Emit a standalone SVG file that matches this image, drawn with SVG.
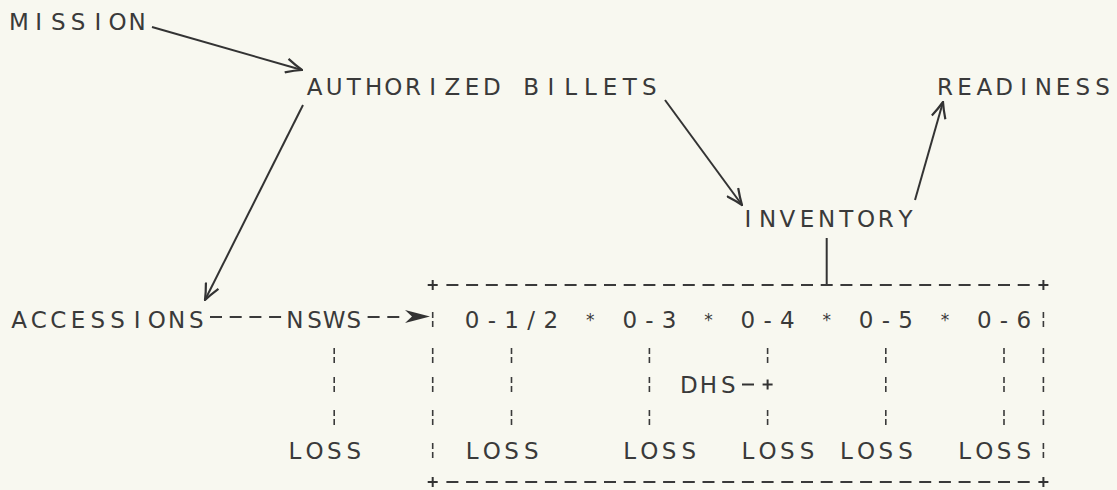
<svg xmlns="http://www.w3.org/2000/svg" width="1117" height="490" viewBox="0 0 1117 490">
<style>
.t{font-family:"DejaVu Sans","Liberation Sans",sans-serif;font-size:23px;fill:#3a3a3a;text-anchor:middle}
.ast{font-size:17px}
.ln{stroke:#333;stroke-width:2;fill:none;stroke-linecap:butt}
.dh{stroke:#3a3a3a;stroke-width:1.9;fill:none;stroke-dasharray:12 7.7}
.vb{stroke:#3a3a3a;stroke-width:1.6;fill:none}
</style>
<defs>
<marker id="open" viewBox="0 0 18 16" refX="17" refY="8" markerWidth="18" markerHeight="16" markerUnits="userSpaceOnUse" orient="auto">
<path d="M1,1 Q10,5.5 17,8 Q10,10.5 1,15" fill="none" stroke="#333" stroke-width="2.2"/>
</marker>
</defs>
<rect x="0" y="0" width="1117" height="490" fill="#f8f8f0"/>

<g id="node-mission"><text class="t" x="19 38.7 58.4 78.1 97.8 117.5 137.2" y="30">MISSION</text></g>
<g id="node-authorized-billets"><text class="t" x="314.5 334.2 353.9 373.6 393.3 413 432.7 452.4 472.1 491.8 511.5 531.2 550.9 570.6 590.3 610 629.7 649.4" y="95">AUTHORIZED BILLETS</text></g>
<g id="node-readiness"><text class="t" x="944.9 964.6 984.3 1004 1023.7 1043.4 1063.1 1082.8 1102.5" y="95">READINESS</text></g>
<g id="node-inventory"><text class="t" x="747.9 767.6 787.3 807 826.7 846.4 866.1 885.8 905.5" y="227">INVENTORY</text></g>
<g id="node-accessions"><text class="t" x="19 38.7 58.4 78.1 97.8 117.5 137.2 156.9 176.6 196.3" y="328">ACCESSIONS</text></g>
<g id="node-nsws"><text class="t" x="294.8 314.5 334.2 353.9" y="328">NSWS</text></g>
<g id="node-grades">
<text class="t" x="472.1 491.8 511.5 531.2 550.9" y="328">0-1/2</text>
<text class="t ast" x="590.3" y="326">*</text>
<text class="t" x="629.7 649.4 669.1" y="328">0-3</text>
<text class="t ast" x="708.5" y="326">*</text>
<text class="t" x="747.9 767.6 787.3" y="328">0-4</text>
<text class="t ast" x="826.7" y="326">*</text>
<text class="t" x="866.1 885.8 905.5" y="328">0-5</text>
<text class="t ast" x="944.9" y="326">*</text>
<text class="t" x="984.3 1004 1023.7" y="328">0-6</text>
</g>
<g id="node-dhs"><text class="t" x="688.8 708.5 728.2" y="393">DHS</text></g>
<g id="node-losses">
<text class="t" x="294.8 314.5 334.2 353.9" y="459">LOSS</text>
<text class="t" x="472.1 491.8 511.5 531.2" y="459">LOSS</text>
<text class="t" x="629.7 649.4 669.1 688.8" y="459">LOSS</text>
<text class="t" x="747.9 767.6 787.3 807" y="459">LOSS</text>
<text class="t" x="846.4 866.1 885.8 905.5" y="459">LOSS</text>
<text class="t" x="964.6 984.3 1004 1023.7" y="459">LOSS</text>
</g>

<g id="connectors">
<line class="ln" x1="152" y1="27" x2="302" y2="70" marker-end="url(#open)"/>
<line class="ln" x1="303" y1="105" x2="205" y2="300" marker-end="url(#open)"/>
<line class="ln" x1="665" y1="100" x2="742" y2="205" marker-end="url(#open)"/>
<line class="ln" x1="915" y1="200" x2="943" y2="102" marker-end="url(#open)"/>
<line class="ln" x1="826.7" y1="238" x2="826.7" y2="285"/>
<line class="dh" x1="210" y1="317" x2="281.1" y2="317"/>
<line class="dh" x1="367.6" y1="317" x2="399.3" y2="317"/>
<path d="M405,310 L430,316.5 L405,323 L412,316.5 Z" fill="#333"/>
<line class="dh" x1="446.4" y1="285" x2="1029.7" y2="285"/>
<line class="dh" x1="446.4" y1="482" x2="1029.7" y2="482"/>
<path class="ln" d="M427.7,285 H437.7 M432.7,280 V290 M1038.4,285 H1048.4 M1043.4,280 V290 M427.7,482 H437.7 M432.7,477 V487 M1038.4,482 H1048.4 M1043.4,477 V487"/>
<path class="vb" d="
M432.7,312 V318 M432.7,321 V327 M432.7,348 V354 M432.7,357 V363 M432.7,377 V383 M432.7,386 V392 M432.7,410 V416 M432.7,419 V425 M432.7,443 V449 M432.7,452 V458
M1043.4,312 V318 M1043.4,321 V327 M1043.4,348 V354 M1043.4,357 V363 M1043.4,377 V383 M1043.4,386 V392 M1043.4,410 V416 M1043.4,419 V425 M1043.4,443 V449 M1043.4,452 V458
M334.2,348 V354 M334.2,357 V363 M334.2,377 V383 M334.2,386 V392 M334.2,410 V416 M334.2,419 V425
M511.5,348 V354 M511.5,357 V363 M511.5,377 V383 M511.5,386 V392 M511.5,410 V416 M511.5,419 V425
M649.4,348 V354 M649.4,357 V363 M649.4,377 V383 M649.4,386 V392 M649.4,410 V416 M649.4,419 V425
M767.6,348 V354 M767.6,357 V363 M767.6,410 V416 M767.6,419 V425
M885.8,348 V354 M885.8,357 V363 M885.8,377 V383 M885.8,386 V392 M885.8,410 V416 M885.8,419 V425
M1004,348 V354 M1004,357 V363 M1004,377 V383 M1004,386 V392 M1004,410 V416 M1004,419 V425"/>
<path class="ln" d="M742,384.5 H754 M762.6,384.5 H772.6 M767.6,379.5 V389.5"/>
</g>
</svg>
